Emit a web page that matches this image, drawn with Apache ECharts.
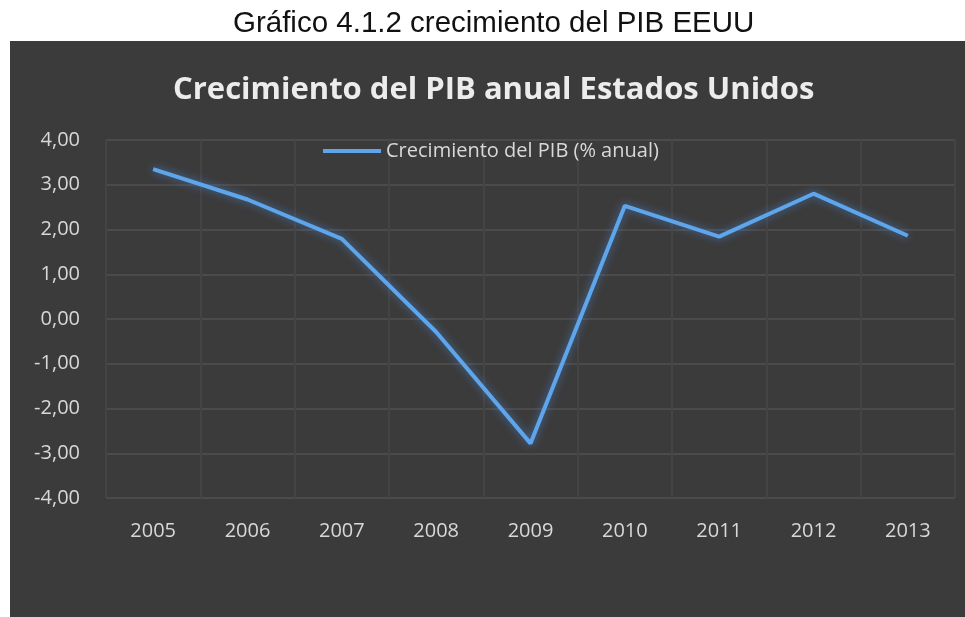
<!DOCTYPE html>
<html>
<head>
<meta charset="utf-8">
<script src="https://cdn.jsdelivr.net/npm/echarts@6/dist/echarts.min.js"></script>
<style>
  html, body { margin: 0; padding: 0; background: #fff; }
  #chart { width: 965px; height: 617px; }
</style>
</head>
<body>
<div id="chart"></div>
<script>
// Crecimiento del PIB EEUU (% anual)
const years = ['2005', '2006', '2007', '2008', '2009', '2010', '2011', '2012', '2013']
const pib = [3.35, 2.67, 1.79, -0.29, -2.78, 2.53, 1.84, 2.80, 1.86]
const seriesName = 'Crecimiento del PIB (% anual)'

const chart = echarts.init(document.getElementById('chart'), undefined, { renderer: 'canvas' })
const fmt = v => v.toFixed(2).replace('.', ',')
const labelFont = "'Open Sans', 'Noto Sans', sans-serif"

const option = {
  backgroundColor: '#ffffff',
  animation: false,
  graphic: [{
    type: 'rect', z: -10, silent: true,
    shape: { x: 10, y: 41, width: 955, height: 576 },
    style: { fill: '#3c3b3b' },
  }],
  title: [
    {
      text: 'Gráfico 4.1.2 crecimiento del PIB EEUU', left: 228, top: 4,
      textStyle: { color: '#111', fontSize: 29.5, fontWeight: 'normal',
        fontFamily: "'Liberation Sans Narrow', 'Liberation Sans', Arial, sans-serif" },
    },
    {
      text: 'Crecimiento del PIB anual Estados Unidos', left: 168, top: 70,
      textStyle: { color: '#ececec', fontSize: 31, fontWeight: 'bold', fontFamily: labelFont },
    },
  ],
  legend: {
    data: [seriesName], left: 318, top: 136,
    itemWidth: 58, itemHeight: 4,
    icon: 'rect',
    textStyle: { color: '#d8d8d8', fontSize: 20, fontFamily: labelFont },
  },
  grid: { left: 106, right: 10, top: 140, bottom: 119 },
  xAxis: {
    type: 'category', data: years, boundaryGap: true,
    axisLine: { show: false }, axisTick: { show: false },
    axisLabel: { color: '#d8d8d8', fontSize: 20, margin: 23, fontFamily: labelFont },
    splitLine: { show: true, lineStyle: { color: '#454444', width: 2 } },
  },
  yAxis: {
    type: 'value', min: -4, max: 4, interval: 1,
    axisLine: { show: false }, axisTick: { show: false },
    axisLabel: { color: '#d8d8d8', fontSize: 20, margin: 26, formatter: fmt, fontFamily: labelFont },
    splitLine: { lineStyle: { color: '#525151', width: 1.5 } },
  },
  series: [{
    name: seriesName, type: 'line', data: pib,
    symbol: 'none', smooth: false,
    lineStyle: { color: '#5ea5ec', width: 4, shadowColor: 'rgba(70,140,220,0.7)', shadowBlur: 8 },
    itemStyle: { color: '#5ea5ec' },
  }],
}

chart.setOption(option)
</script>
</body>
</html>
